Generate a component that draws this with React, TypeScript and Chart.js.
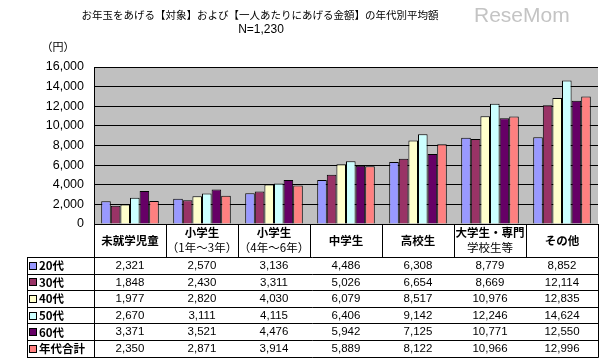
import React, { useEffect, useRef } from "react";
import { Chart, registerables } from "chart.js";

Chart.register(...registerables);

const categories: string[][] = [
  ["未就学児童"],
  ["小学生", "（1年～3年）"],
  ["小学生", "（4年～6年）"],
  ["中学生"],
  ["高校生"],
  ["大学生・専門", "学校生等"],
  ["その他"],
];

const seriesNames = ["20代", "30代", "40代", "50代", "60代", "年代合計"];
const seriesColors = ["#9999FF", "#993366", "#FFFFCC", "#CCFFFF", "#660066", "#FF8080"];

const s20 = [2321, 2570, 3136, 4486, 6308, 8779, 8852];
const s30 = [1848, 2430, 3311, 5026, 6654, 8669, 12114];
const s40 = [1977, 2820, 4030, 6079, 8517, 10976, 12835];
const s50 = [2670, 3111, 4115, 6406, 9142, 12246, 14624];
const s60 = [3371, 3521, 4476, 5942, 7125, 10771, 12550];
const sAll = [2350, 2871, 3914, 5889, 8122, 10966, 12996];

const seriesValues = [s20, s30, s40, s50, s60, sAll];

const titleLine1 = "お年玉をあげる【対象】および【一人あたりにあげる金額】の年代別平均額";
const titleLine2 = "N=1,230";
const unitLabel = "（円）";

const fmt = (v: number) => v.toLocaleString("en-US");

const JP = '"Noto Sans CJK JP", "Noto Sans", sans-serif';
const LAT = '"Liberation Sans", Arial, sans-serif';

const decorPlugin = {
  id: "decor",
  beforeDraw(chart: any) {
    const { ctx, chartArea } = chart;
    ctx.save();
    ctx.fillStyle = "#ffffff";
    ctx.fillRect(0, 0, chart.width, chart.height);
    ctx.fillStyle = "#C0C0C0";
    ctx.fillRect(chartArea.left, chartArea.top, chartArea.right - chartArea.left, chartArea.bottom - chartArea.top);
    ctx.restore();
  },
  afterDraw(chart: any) {
    const { ctx, chartArea } = chart;
    const xs = chart.scales.x;
    ctx.save();
    // Title
    ctx.fillStyle = "#000";
    ctx.textAlign = "center";
    ctx.textBaseline = "middle";
    ctx.font = `10.5px ${JP}`;
    ctx.fillText(titleLine1, 260, 15);
    ctx.font = `12px ${LAT}`;
    ctx.fillText(titleLine2, 261, 30);
    // unit
    ctx.font = `11px ${JP}`;
    ctx.fillText(unitLabel, 58, 47);
    // watermark
    ctx.font = `21px ${LAT}`;
    ctx.fillStyle = "#c4c4c4";
    ctx.textAlign = "left";
    ctx.fillText("ReseMom", 474, 16);

    // Table
    const left = chartArea.left;
    const right = chartArea.right;
    const n = categories.length;
    const w = (right - left) / n;
    const top = chartArea.bottom;
    const headerBottom = top + 33;
    const rowH = 16.6;
    const tableLeft = 27;
    const bottom = headerBottom + rowH * seriesNames.length;
    const px = (v: number) => Math.round(v) + 0.5;

    ctx.strokeStyle = "#000";
    ctx.lineWidth = 1;
    ctx.beginPath();
    for (let i = 0; i <= n; i++) {
      const x = px(left + i * w);
      ctx.moveTo(x, top);
      ctx.lineTo(x, headerBottom);
    }
    for (let r = 0; r <= seriesNames.length; r++) {
      const y = px(headerBottom + r * rowH);
      ctx.moveTo(tableLeft, y);
      ctx.lineTo(px(right), y);
    }
    [tableLeft, left, right].forEach((xv) => {
      const x = px(xv);
      ctx.moveTo(x, px(headerBottom));
      ctx.lineTo(x, px(bottom));
    });
    ctx.stroke();

    // Category labels
    ctx.fillStyle = "#000";
    ctx.textAlign = "center";
    ctx.font = `bold 11.5px ${JP}`;
    categories.forEach((lines, i) => {
      const cx = xs.getPixelForValue(i);
      if (lines.length === 1) {
        ctx.fillText(lines[0], cx, top + 17);
      } else {
        ctx.fillText(lines[0], cx, top + 9);
        ctx.font = `11.5px ${JP}`;
        ctx.fillText(lines[1], cx, top + 24);
        ctx.font = `bold 11.5px ${JP}`;
      }
    });

    // Rows
    seriesNames.forEach((name, r) => {
      const cy = headerBottom + r * rowH + rowH / 2 + 0.5;
      ctx.fillStyle = seriesColors[r];
      ctx.fillRect(29.5, Math.round(cy - 4) + 0.5, 7, 7);
      ctx.strokeStyle = "#000";
      ctx.strokeRect(29.5, Math.round(cy - 4) + 0.5, 7, 7);
      ctx.fillStyle = "#000";
      ctx.textAlign = "left";
      ctx.font = `bold 11.5px ${JP}`;
      ctx.fillText(name, 39, cy);
      ctx.textAlign = "center";
      ctx.font = `11.5px ${LAT}`;
      seriesValues[r].forEach((v, i) => {
        ctx.fillText(fmt(v), xs.getPixelForValue(i), cy);
      });
    });
    ctx.restore();
  },
};

export default function App() {
  const ref = useRef<HTMLCanvasElement | null>(null);
  useEffect(() => {
    document.body.style.margin = "0";
    if (!ref.current) return;
    const chart = new Chart(ref.current, {
      type: "bar",
      data: {
        labels: categories.map((c) => c.join(" ")),
        datasets: seriesNames.map((name, i) => ({
          label: name,
          data: seriesValues[i],
          backgroundColor: seriesColors[i],
          borderColor: "#000",
          borderWidth: 1,
          categoryPercentage: 0.8,
          barPercentage: 1.0,
        })),
      },
      options: {
        responsive: false,
        animation: false,
        devicePixelRatio: 1,
        layout: { padding: { left: 0, top: 67, right: 5, bottom: 137 } },
        plugins: {
          legend: { display: false },
          title: { display: false },
          tooltip: { enabled: false },
        },
        scales: {
          x: { display: false },
          y: {
            min: 0,
            max: 16000,
            afterFit: (s: any) => {
              s.width = 94;
            },
            ticks: {
              stepSize: 2000,
              padding: 10,
              color: "#000",
              font: { family: LAT, size: 12.5 },
              callback: (v: any) => fmt(Number(v)),
            },
            grid: { color: "#000", lineWidth: 1, drawTicks: false },
            border: { color: "#000", width: 1 },
          },
        },
      },
      plugins: [decorPlugin],
    });
    return () => chart.destroy();
  }, []);
  return (
    <div style={{ position: "absolute", left: 0, top: 0, width: 603, height: 361 }}>
      <canvas ref={ref} width={603} height={361} />
    </div>
  );
}
